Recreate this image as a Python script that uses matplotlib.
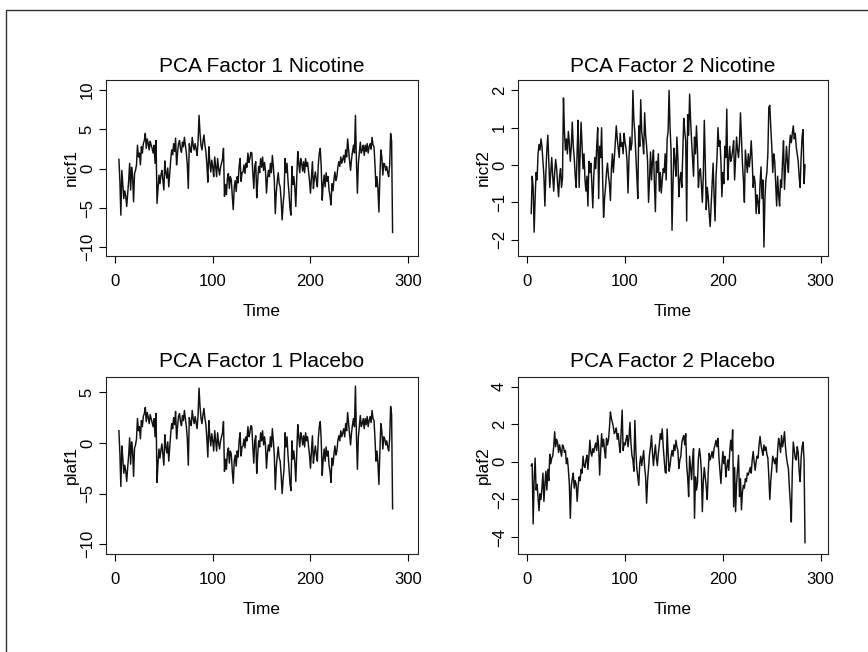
import numpy as np
import matplotlib.pyplot as plt
from matplotlib.patches import Rectangle

plt.rcParams['font.family'] = ['Liberation Sans', 'DejaVu Sans']

# PCA factor scores, time points 4..284
nicf1 = [1.2, -1.5, -5.9, -0.2, -2.0, -3.8, -2.8, -3.5, -4.8, -3.1,
         -1.5, 0.7, -2.7, 0.2, -1.0, -4.2, -0.6, -0.2, 0.5, 3.0,
         1.5, 2.0, 0.5, 2.8, 2.0, 3.2, 3.6, 4.5, 2.6, 3.8,
         3.2, 2.4, 3.5, 3.0, 2.6, 2.0, 3.0, 0.7, 3.6, -4.4,
         -2.5, -0.8, -1.9, -0.8, -0.2, -1.5, -2.7, 1.0, -0.5, -1.2,
         0.1, -2.3, -0.5, 1.1, 2.4, 1.8, 3.2, 2.2, 3.9, 0.5,
         2.0, 3.2, 3.6, 2.6, 2.1, 3.4, 2.8, 4.0, 3.0, 2.0,
         0.5, -2.5, 3.2, 2.5, 2.1, 4.0, 3.0, 2.4, 3.2, 2.5,
         1.7, 3.5, 6.8, 4.5, 3.0, 2.4, 3.5, 4.3, 3.0, 2.2,
         0.5, -1.7, 2.8, 0.9, -0.4, 1.1, 0.2, -1.0, 1.5, 0.3,
         -1.0, 1.3, 0.0, -0.8, 0.2, 0.7, 1.2, 2.6, -3.5, -2.0,
         -3.3, -1.2, -0.6, -2.5, -1.0, -1.4, -3.5, -5.2, -2.3, -1.5,
         -2.9, -1.0, -1.8, 0.3, 1.3, -1.6, -0.5, -0.4, 0.5, -0.6,
         0.7, 0.2, 2.0, 0.8, 1.3, 2.1, 2.0, -0.5, -2.5, 0.3,
         0.9, -3.7, -1.5, 0.3, -0.5, 1.3, 0.2, 1.5, -0.2, 0.8,
         -0.4, -3.1, -1.2, -0.2, -1.0, 0.7, -0.5, 1.7, 0.3, -1.5,
         -5.7, -3.0, -1.6, -0.5, -1.9, -2.3, -4.0, -6.5, -4.5, -3.1,
         1.3, -0.5, 0.7, -1.5, -3.1, -5.0, -5.9, 0.3, -2.0, -1.0,
         -2.5, -4.8, -1.0, 2.2, 0.7, -0.5, 1.3, 0.7, -0.3, 0.9,
         -0.5, 1.3, 0.3, 0.8, -0.4, -1.5, -3.1, -1.0, 0.9, -2.5,
         -1.2, -0.4, -1.5, -2.3, 0.5, 2.0, 2.6, 0.2, -4.0, -2.0,
         -0.8, -2.3, -0.5, -1.6, -1.0, -2.7, -3.5, -4.6, -1.9, -2.8,
         -1.4, -0.4, -1.5, -1.0, 0.2, 0.9, 0.3, 1.5, 0.7, 1.2,
         1.7, 0.8, 2.4, 1.5, 3.8, 2.4, 1.0, -0.2, 1.2, 2.2,
         3.0, 2.0, 6.8, 1.0, -3.1, 0.7, 2.0, 3.4, 2.0, 2.4,
         3.0, 1.7, 3.0, 2.2, 3.2, 2.0, 2.8, 3.2, 2.5, 4.0,
         3.0, 2.8, 0.5, -2.3, -1.0, -2.5, -5.5, -1.0, 2.4, 1.5,
         -0.8, 0.7, 0.5, -0.2, 0.3, -0.5, -1.0, 0.5, 4.5, 3.5,
         -8.1]

nicf2 = [-1.3, -0.3, -0.6, -1.8, -0.9, -0.2, -0.4, 0.3, 0.55, 0.4,
         0.7, 0.5, 0.1, -0.3, -1.1, -0.2, 0.4, 0.8, 0.1, -0.6,
         -0.2, 0.2, -0.3, -0.7, -0.2, 0.15, -0.1, -0.5, -0.85, -0.3,
         -0.1, -0.6, -0.35, 1.8, 0.9, 0.4, 0.7, 0.3, 0.9, 0.6,
         0.1, 0.5, 1.15, 0.5, 0.2, -0.3, -0.6, 0.4, 1.2, -0.6,
         0.3, 1.15, 0.5, -0.1, 0.3, -0.4, -0.7, -0.3, -1.1, 0.1,
         -0.2, 0.05, -0.5, -1.15, -0.3, 0.2, -0.1, 0.5, 1.0, -0.9,
         0.5, 0.2, 1.0, -0.3, -1.4, -0.9, -0.6, -0.2, 0.05, -0.3,
         -0.5, -0.95, -0.1, 0.3, -0.2, 0.2, 0.6, 1.05, 0.7, 0.45,
         0.2, 0.85, 0.5, 0.6, 0.3, 0.85, 0.6, 0.45, 0.1, -0.75,
         0.2, 0.75, 0.4, 0.6, 2.0, 1.2, 0.85, 0.3, -0.3, -0.9,
         1.05, 0.5, 1.75, 0.9, 0.65, 0.3, 1.4, 0.8, 0.5, 0.1,
         -1.0, -0.4, 0.35, -0.4, 0.1, 0.4, -0.5, -1.25, 0.1, -0.2,
         0.3, -0.7, -0.2, -0.75, -0.4, -0.1, -0.2, 0.3, -0.4, 0.7,
         0.9, 2.0, 1.0, 0.4, -1.75, -0.5, 0.45, 0.1, -0.3, 0.75,
         0.2, -0.85, -0.4, -0.2, -0.6, 0.3, 1.25, 0.9, 0.65, -1.5,
         1.35, 0.8, 1.9, 1.2, 0.65, 0.2, -0.3, 0.75, 0.3, 1.05,
         0.4, -0.6, -0.2, -0.1, -0.5, -1.0, -0.3, 1.2, 0.1, -1.2,
         -0.6, -0.85, -1.3, -1.65, -1.1, -0.6, 0.05, -0.8, -1.5, -0.3,
         0.2, 1.0, 0.5, 0.65, 0.1, -0.85, -0.2, -0.5, 0.5, 0.2,
         1.5, -0.4, 0.1, 0.5, 0.1, 0.2, 0.4, 0.65, -0.4, 0.2,
         0.75, 0.4, 0.2, 0.6, 1.4, 0.7, 0.05, -0.4, -1.0, 0.4,
         0.1, -0.2, 0.3, -0.05, 0.2, 0.65, 0.1, -0.6, -0.3, -0.5,
         -1.3, -0.8, -1.0, -1.3, -0.5, -0.05, -0.9, -0.4, -2.2, -0.9,
         -0.4, -0.2, 0.3, 1.55, 1.6, 1.0, 0.5, -0.2, 0.3, 0.1,
         -0.5, -1.1, -0.3, -0.8, -1.1, -0.4, -0.6, 0.1, 0.65, -0.65,
         -0.1, 0.5, 0.1, -0.2, 0.5, 0.8, 0.6, 0.85, 1.05, 0.7,
         0.85, 0.5, 0.3, 0.1, -0.3, -0.6, 0.2, 0.75, 0.95, -0.5,
         0.0]

plaf1 = [1.2, -1.0, -4.3, -0.3, -1.5, -3.0, -2.2, -2.8, -3.8, -2.4,
         -1.2, 0.5, -2.1, 0.1, -0.8, -3.3, -0.5, -0.2, 0.4, 2.4,
         1.2, 1.6, 0.4, 2.2, 1.6, 2.6, 2.9, 3.5, 2.1, 3.0,
         2.5, 1.9, 2.8, 2.4, 2.0, 1.6, 2.4, 0.6, 2.9, -3.9,
         -2.0, -0.6, -1.5, -0.7, -0.1, -1.2, -2.2, 0.8, -0.4, -1.0,
         0.1, -1.8, -0.4, 0.9, 1.9, 1.4, 2.5, 1.8, 3.1, 0.4,
         1.6, 2.6, 2.9, 2.1, 1.7, 2.7, 2.2, 3.2, 2.4, 1.6,
         0.4, -2.2, 2.5, 2.0, 1.7, 3.2, 2.4, 1.9, 2.6, 2.0,
         1.4, 2.8, 5.4, 3.6, 2.4, 1.9, 2.8, 3.4, 2.4, 1.8,
         0.4, -1.4, 2.2, 0.7, -0.3, 0.9, 0.2, -0.8, 1.2, 0.2,
         -0.8, 1.0, 0.0, -0.6, 0.2, 0.6, 1.0, 2.1, -2.8, -1.6,
         -2.6, -1.0, -0.5, -2.0, -0.8, -1.1, -2.8, -4.0, -1.8, -1.2,
         -2.3, -0.8, -1.4, 0.2, 1.0, -1.3, -0.4, -0.3, 0.4, -0.5,
         0.6, 0.2, 1.6, 0.6, 1.0, 1.7, 1.6, -0.4, -2.0, 0.2,
         0.7, -3.0, -1.2, 0.2, -0.4, 1.0, 0.2, 1.2, -0.2, 0.6,
         -0.3, -2.5, -1.0, -0.2, -0.8, 0.6, -0.4, 1.4, 0.2, -1.2,
         -4.6, -2.4, -1.3, -0.4, -1.5, -1.8, -3.2, -5.0, -3.6, -2.5,
         1.0, -0.4, 0.6, -1.2, -2.5, -4.0, -4.7, 0.2, -1.6, -0.8,
         -2.0, -3.8, -0.8, 1.8, 0.6, -0.4, 1.0, 0.6, -0.2, 0.7,
         -0.4, 1.0, 0.2, 0.6, -0.3, -1.2, -2.5, -0.8, 0.7, -2.0,
         -1.0, -0.3, -1.2, -1.8, 0.4, 1.6, 2.1, 0.2, -3.2, -1.6,
         -0.6, -1.8, -0.4, -1.3, -0.8, -2.2, -2.8, -3.9, -1.5, -2.2,
         -1.1, -0.3, -1.2, -0.8, 0.2, 0.7, 0.2, 1.2, 0.6, 1.0,
         1.4, 0.6, 1.9, 1.2, 3.0, 1.9, 0.8, -0.2, 1.0, 1.8,
         2.4, 1.6, 5.6, 0.8, -2.6, 0.6, 1.6, 2.7, 1.6, 1.9,
         2.4, 1.4, 2.4, 1.8, 2.6, 1.6, 2.2, 2.6, 2.0, 3.2,
         2.4, 2.2, 0.4, -1.8, -0.8, -2.0, -4.1, -0.8, 1.9, 1.2,
         -0.6, 0.6, 0.4, -0.2, 0.2, -0.4, -0.8, 0.4, 3.6, 2.8,
         -6.5]

plaf2 = [-0.2, -0.1, -3.3, -1.0, 0.2, -1.5, -1.2, -1.9, -2.6, -1.7,
         -2.0, -1.4, -0.6, -2.1, -1.2, -0.5, -1.5, -0.4, -1.0, 0.4,
         -0.1, 0.2, 0.3, 0.8, 1.6, 0.8, 1.2, 1.0, 0.5, 0.9,
         0.6, 0.3, 0.9, 0.8, 0.5, 0.6, -0.1, 0.2, -0.4, -1.2,
         -3.0, -1.3, -0.9, -0.6, -1.4, -1.0, -1.2, -2.1, -1.3, -0.8,
         -1.0, -0.4, -0.6, 0.3, -0.2, -0.3, 0.1, 0.35, -0.4, 0.3,
         1.15, 0.5, 0.3, 0.7, 0.5, 0.8, 1.0, 0.6, 1.4, 0.8,
         -0.7, 0.5, 1.5, 0.8, 1.2, 0.6, 0.2, 1.25, 0.9, 1.15,
         1.8, 2.65, 2.3, 2.1, 1.85, 1.5, 1.6, 1.8, 1.2, 1.5,
         0.9, 0.5, 1.6, 2.75, 0.6, 1.0, 0.9, 1.2, 1.4, 0.8,
         1.3, 2.1, 1.0, 0.35, 0.1, -0.5, 2.2, 0.6, -0.35, -0.8,
         -1.25, -0.1, 0.3, -0.2, 0.2, 0.6, -0.3, -0.8, -2.2, -1.0,
         -0.3, 0.4, 0.8, 1.4, 0.5, -0.2, 0.4, 0.9, 0.2, -0.2,
         0.45, 0.9, 1.5, 1.2, 1.75, 0.8, 0.1, -0.55, -0.6, 1.75,
         0.5, -0.5, -0.2, 0.3, 0.6, 0.3, 0.9, 0.6, 1.15, 0.8,
         0.6, -0.35, 0.1, 0.3, 1.0, 1.25, 1.4, 0.9, 1.5, -0.2,
         -0.8, -1.85, 0.3, -0.3, -0.95, 0.1, 0.7, -3.0, -0.8, -1.5,
         -1.15, 0.2, 0.7, 0.3, -0.5, -2.65, -1.0, -0.3, -0.8, -1.35,
         -2.0, -0.6, 0.45, 0.1, 0.3, 0.55, 0.2, 0.7, 0.9, 1.15,
         0.8, 1.25, 0.2, -0.5, -1.15, -0.2, 0.55, -0.1, 0.3, -0.8,
         -0.3, 0.1, -0.45, 0.5, 1.15, 0.6, 1.7, -2.4, -0.3, -2.65,
         -1.15, -0.4, 0.35, -1.85, -0.9, -2.55, -1.6, -1.25, -1.4, -0.9,
         -1.05, -0.6, -0.7, -0.5, -0.3, -0.6, 0.1, 0.55, 0.0, -0.45,
         0.0, 0.3, 0.2, 0.9, 1.35, 0.9, 0.6, 0.35, 0.9, 0.6,
         0.8, 0.4, 0.2, -0.8, -2.0, -1.0, -0.35, 0.3, 0.1, -0.1,
         0.2, -0.55, 0.6, 1.25, 0.95, 0.5, 1.4, 0.8, 1.1, 1.6,
         0.8, 0.25, -0.1, -0.35, -1.35, -2.2, -3.2, -0.5, 1.05, 0.6,
         0.2, 0.1, 0.8, 0.5, -0.5, -1.05, 0.2, 0.8, 1.05, 0.1,
         -4.3]

start_time = 4
titles = ['PCA Factor 1 Nicotine', 'PCA Factor 2 Nicotine',
          'PCA Factor 1 Placebo', 'PCA Factor 2 Placebo']
ylabels = ['nicf1', 'nicf2', 'plaf1', 'plaf2']
series = [nicf1, nicf2, plaf1, plaf2]
yticks = [[-10, -5, 0, 5, 10], [-2, -1, 0, 1, 2], [-10, -5, 0, 5], [-4, -2, 0, 2, 4]]
ylims = [(-11.1, 11.3), (-2.44, 2.28), (-10.96, 6.5), (-4.9, 4.51)]
xlims = [(-9.2, 310), (-9.5, 307.5), (-9.2, 310), (-9.5, 307.5)]

fig = plt.figure(figsize=(8.68, 6.52), dpi=100)
W, H = 868, 652
boxes = [(106, 80, 418, 256), (518, 80, 828, 256),
         (106, 377, 418, 554), (518, 377, 828, 554)]
title_pad = [6, 6, 7, 7]

for i in range(4):
    x0, y0, x1, y1 = boxes[i]
    ax = fig.add_axes([x0 / W, 1 - y1 / H, (x1 - x0) / W, (y1 - y0) / H])
    vals = np.array(series[i])
    t = np.arange(start_time, start_time + len(vals))
    ax.plot(t, vals, color='#111111', lw=1.05)
    ax.set_xlim(*xlims[i])
    ax.set_ylim(*ylims[i])
    ax.set_xticks([0, 100, 200, 300])
    ax.set_yticks(yticks[i])
    ax.set_title(titles[i], fontsize=15, pad=title_pad[i])
    ax.set_xlabel('Time', fontsize=12.5, labelpad=11)
    ax.set_ylabel(ylabels[i], fontsize=12.5, labelpad=1)
    ax.tick_params(direction='out', length=5, width=0.8, labelsize=12, pad=8)
    ax.tick_params(axis='y', labelrotation=90, pad=3)
    for lab in ax.get_yticklabels():
        lab.set_va('center')
    for s in ax.spines.values():
        s.set_linewidth(0.8)
        s.set_color('#222222')

# outer frame of the figure panel
fig.patches.append(Rectangle((6 / W, -0.05), 1.1, 1 - 10 / H + 0.05,
                             transform=fig.transFigure, fill=False,
                             edgecolor='#333333', lw=1.0))

plt.savefig('out.png', dpi=100)
